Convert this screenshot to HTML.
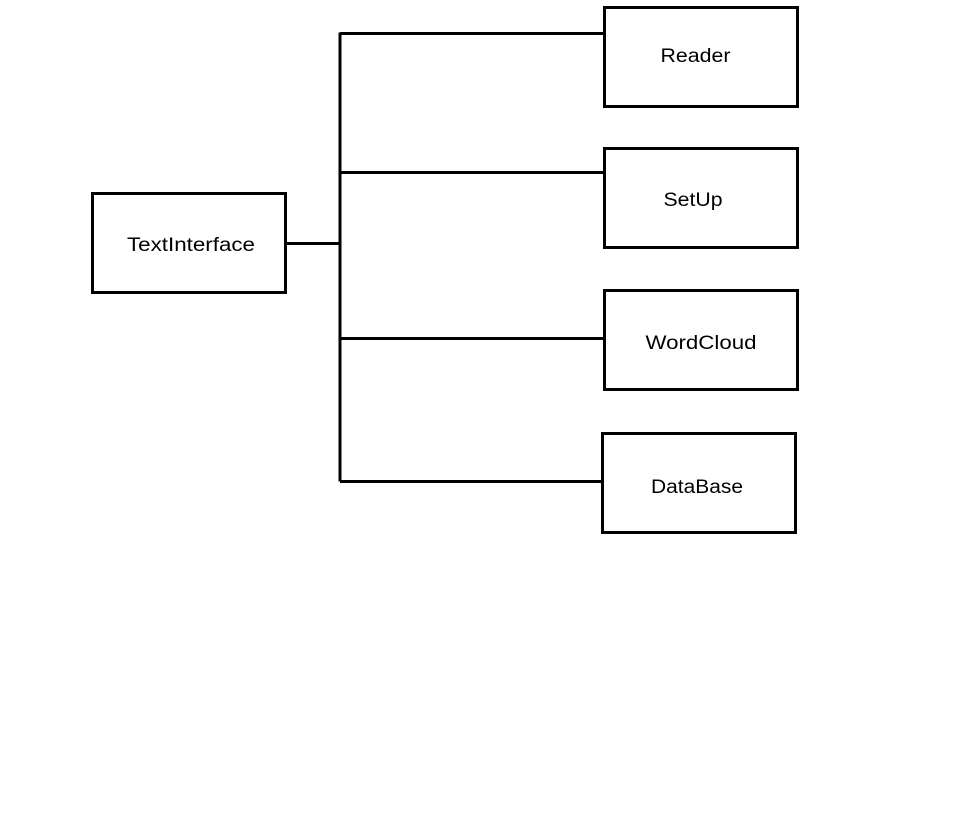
<!DOCTYPE html>
<html><head><meta charset="utf-8"><style>html,body{margin:0;padding:0;background:#fff;width:957px;height:814px;overflow:hidden}</style></head>
<body>
<svg width="957" height="814" xmlns="http://www.w3.org/2000/svg" style="display:block">
<g fill="none" stroke="#000" stroke-width="3">
<rect x="92.5" y="193.5" width="193" height="99"/>
<rect x="604.5" y="7.5" width="193" height="99"/>
<rect x="604.5" y="148.5" width="193" height="99"/>
<rect x="604.5" y="290.5" width="193" height="99"/>
<rect x="602.5" y="433.5" width="193" height="99"/>
<path d="M286 243.5H340M340 32.5V481.5M340 33.5H604M340 172.5H604M340 338.5H604M340 481.5H602"/>
</g>
<g font-family="Liberation Sans, sans-serif" font-size="19" fill="#000" text-anchor="middle">
<text x="191" y="251" textLength="128" lengthAdjust="spacingAndGlyphs">TextInterface</text>
<text x="695.5" y="62" textLength="70" lengthAdjust="spacingAndGlyphs">Reader</text>
<text x="693" y="206" textLength="59" lengthAdjust="spacingAndGlyphs">SetUp</text>
<text x="701" y="349" textLength="111" lengthAdjust="spacingAndGlyphs">WordCloud</text>
<text x="697" y="493" textLength="92" lengthAdjust="spacingAndGlyphs">DataBase</text>
</g>
</svg>
</body></html>
